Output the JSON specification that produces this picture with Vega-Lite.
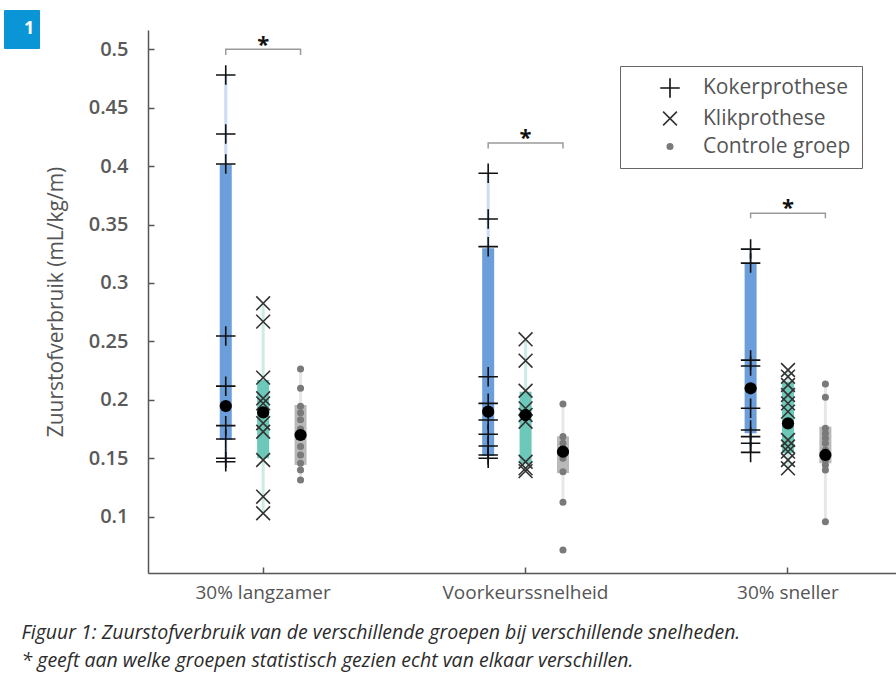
{
  "$schema": "https://vega.github.io/schema/vega-lite/v6.json",
  "autosize": {"type": "none"},
  "width": 748,
  "height": 543,
  "padding": {"left": 148, "top": 30, "right": 0, "bottom": 111},
  "background": "white",
  "config": {
    "view": {"stroke": null},
    "font": "Open Sans",
    "axis": {"grid": false},
    "legend": {
      "orient": "none", "legendX": 472, "legendY": 36,
      "strokeColor": "#666", "padding": 11, "rowPadding": 6,
      "symbolOffset": 28, "labelOffset": 22, "labelFont": "Open Sans",
      "labelFontSize": 21, "labelColor": "#555", "symbolStrokeWidth": 1.6
    }
  },
  "title": {
    "text": "Figuur 1: Zuurstofverbruik van de verschillende groepen bij verschillende snelheden.",
    "subtitle": "* geeft aan welke groepen statistisch gezien echt van elkaar verschillen.",
    "orient": "bottom",
    "anchor": "start",
    "frame": "bounds",
    "offset": 22,
    "dx": 18,
    "font": "Open Sans",
    "fontSize": 19.5,
    "fontStyle": "italic",
    "fontWeight": "normal",
    "color": "#2b2b2b",
    "subtitleFont": "Open Sans",
    "subtitleFontSize": 19.5,
    "subtitleFontStyle": "italic",
    "subtitleColor": "#2b2b2b",
    "subtitlePadding": 8
  },
  "datasets": {
    "punten": [
      {"snelheid": "30% langzamer", "groep": "Kokerprothese", "waarde": 0.478},
      {"snelheid": "30% langzamer", "groep": "Kokerprothese", "waarde": 0.4275},
      {"snelheid": "30% langzamer", "groep": "Kokerprothese", "waarde": 0.4018},
      {"snelheid": "30% langzamer", "groep": "Kokerprothese", "waarde": 0.2546},
      {"snelheid": "30% langzamer", "groep": "Kokerprothese", "waarde": 0.2117},
      {"snelheid": "30% langzamer", "groep": "Kokerprothese", "waarde": 0.1779},
      {"snelheid": "30% langzamer", "groep": "Kokerprothese", "waarde": 0.1665},
      {"snelheid": "30% langzamer", "groep": "Kokerprothese", "waarde": 0.150},
      {"snelheid": "30% langzamer", "groep": "Kokerprothese", "waarde": 0.147},
      {"snelheid": "30% langzamer", "groep": "Klikprothese", "waarde": 0.2826},
      {"snelheid": "30% langzamer", "groep": "Klikprothese", "waarde": 0.2669},
      {"snelheid": "30% langzamer", "groep": "Klikprothese", "waarde": 0.219},
      {"snelheid": "30% langzamer", "groep": "Klikprothese", "waarde": 0.2013},
      {"snelheid": "30% langzamer", "groep": "Klikprothese", "waarde": 0.197},
      {"snelheid": "30% langzamer", "groep": "Klikprothese", "waarde": 0.18},
      {"snelheid": "30% langzamer", "groep": "Klikprothese", "waarde": 0.1727},
      {"snelheid": "30% langzamer", "groep": "Klikprothese", "waarde": 0.1485},
      {"snelheid": "30% langzamer", "groep": "Klikprothese", "waarde": 0.1171},
      {"snelheid": "30% langzamer", "groep": "Klikprothese", "waarde": 0.1029},
      {"snelheid": "30% langzamer", "groep": "Controle groep", "waarde": 0.2264},
      {"snelheid": "30% langzamer", "groep": "Controle groep", "waarde": 0.2099},
      {"snelheid": "30% langzamer", "groep": "Controle groep", "waarde": 0.1945},
      {"snelheid": "30% langzamer", "groep": "Controle groep", "waarde": 0.189},
      {"snelheid": "30% langzamer", "groep": "Controle groep", "waarde": 0.183},
      {"snelheid": "30% langzamer", "groep": "Controle groep", "waarde": 0.175},
      {"snelheid": "30% langzamer", "groep": "Controle groep", "waarde": 0.160},
      {"snelheid": "30% langzamer", "groep": "Controle groep", "waarde": 0.1528},
      {"snelheid": "30% langzamer", "groep": "Controle groep", "waarde": 0.1457},
      {"snelheid": "30% langzamer", "groep": "Controle groep", "waarde": 0.140},
      {"snelheid": "30% langzamer", "groep": "Controle groep", "waarde": 0.1314},
      {"snelheid": "Voorkeurssnelheid", "groep": "Kokerprothese", "waarde": 0.3939},
      {"snelheid": "Voorkeurssnelheid", "groep": "Kokerprothese", "waarde": 0.3548},
      {"snelheid": "Voorkeurssnelheid", "groep": "Kokerprothese", "waarde": 0.3311},
      {"snelheid": "Voorkeurssnelheid", "groep": "Kokerprothese", "waarde": 0.2198},
      {"snelheid": "Voorkeurssnelheid", "groep": "Kokerprothese", "waarde": 0.197},
      {"snelheid": "Voorkeurssnelheid", "groep": "Kokerprothese", "waarde": 0.1828},
      {"snelheid": "Voorkeurssnelheid", "groep": "Kokerprothese", "waarde": 0.1705},
      {"snelheid": "Voorkeurssnelheid", "groep": "Kokerprothese", "waarde": 0.1605},
      {"snelheid": "Voorkeurssnelheid", "groep": "Kokerprothese", "waarde": 0.1528},
      {"snelheid": "Voorkeurssnelheid", "groep": "Kokerprothese", "waarde": 0.150},
      {"snelheid": "Voorkeurssnelheid", "groep": "Klikprothese", "waarde": 0.2518},
      {"snelheid": "Voorkeurssnelheid", "groep": "Klikprothese", "waarde": 0.2335},
      {"snelheid": "Voorkeurssnelheid", "groep": "Klikprothese", "waarde": 0.2078},
      {"snelheid": "Voorkeurssnelheid", "groep": "Klikprothese", "waarde": 0.1927},
      {"snelheid": "Voorkeurssnelheid", "groep": "Klikprothese", "waarde": 0.187},
      {"snelheid": "Voorkeurssnelheid", "groep": "Klikprothese", "waarde": 0.1813},
      {"snelheid": "Voorkeurssnelheid", "groep": "Klikprothese", "waarde": 0.147},
      {"snelheid": "Voorkeurssnelheid", "groep": "Klikprothese", "waarde": 0.1414},
      {"snelheid": "Voorkeurssnelheid", "groep": "Klikprothese", "waarde": 0.139},
      {"snelheid": "Voorkeurssnelheid", "groep": "Controle groep", "waarde": 0.1964},
      {"snelheid": "Voorkeurssnelheid", "groep": "Controle groep", "waarde": 0.1685},
      {"snelheid": "Voorkeurssnelheid", "groep": "Controle groep", "waarde": 0.1628},
      {"snelheid": "Voorkeurssnelheid", "groep": "Controle groep", "waarde": 0.158},
      {"snelheid": "Voorkeurssnelheid", "groep": "Controle groep", "waarde": 0.150},
      {"snelheid": "Voorkeurssnelheid", "groep": "Controle groep", "waarde": 0.1385},
      {"snelheid": "Voorkeurssnelheid", "groep": "Controle groep", "waarde": 0.1123},
      {"snelheid": "Voorkeurssnelheid", "groep": "Controle groep", "waarde": 0.0715},
      {"snelheid": "30% sneller", "groep": "Kokerprothese", "waarde": 0.329},
      {"snelheid": "30% sneller", "groep": "Kokerprothese", "waarde": 0.317},
      {"snelheid": "30% sneller", "groep": "Kokerprothese", "waarde": 0.234},
      {"snelheid": "30% sneller", "groep": "Kokerprothese", "waarde": 0.229},
      {"snelheid": "30% sneller", "groep": "Kokerprothese", "waarde": 0.1928},
      {"snelheid": "30% sneller", "groep": "Kokerprothese", "waarde": 0.1742},
      {"snelheid": "30% sneller", "groep": "Kokerprothese", "waarde": 0.1685},
      {"snelheid": "30% sneller", "groep": "Kokerprothese", "waarde": 0.1628},
      {"snelheid": "30% sneller", "groep": "Kokerprothese", "waarde": 0.155},
      {"snelheid": "30% sneller", "groep": "Klikprothese", "waarde": 0.2255},
      {"snelheid": "30% sneller", "groep": "Klikprothese", "waarde": 0.2198},
      {"snelheid": "30% sneller", "groep": "Klikprothese", "waarde": 0.2127},
      {"snelheid": "30% sneller", "groep": "Klikprothese", "waarde": 0.2041},
      {"snelheid": "30% sneller", "groep": "Klikprothese", "waarde": 0.197},
      {"snelheid": "30% sneller", "groep": "Klikprothese", "waarde": 0.1899},
      {"snelheid": "30% sneller", "groep": "Klikprothese", "waarde": 0.1656},
      {"snelheid": "30% sneller", "groep": "Klikprothese", "waarde": 0.160},
      {"snelheid": "30% sneller", "groep": "Klikprothese", "waarde": 0.1557},
      {"snelheid": "30% sneller", "groep": "Klikprothese", "waarde": 0.1485},
      {"snelheid": "30% sneller", "groep": "Klikprothese", "waarde": 0.1414},
      {"snelheid": "30% sneller", "groep": "Controle groep", "waarde": 0.2136},
      {"snelheid": "30% sneller", "groep": "Controle groep", "waarde": 0.2022},
      {"snelheid": "30% sneller", "groep": "Controle groep", "waarde": 0.1757},
      {"snelheid": "30% sneller", "groep": "Controle groep", "waarde": 0.1714},
      {"snelheid": "30% sneller", "groep": "Controle groep", "waarde": 0.1671},
      {"snelheid": "30% sneller", "groep": "Controle groep", "waarde": 0.1628},
      {"snelheid": "30% sneller", "groep": "Controle groep", "waarde": 0.1571},
      {"snelheid": "30% sneller", "groep": "Controle groep", "waarde": 0.1485},
      {"snelheid": "30% sneller", "groep": "Controle groep", "waarde": 0.1442},
      {"snelheid": "30% sneller", "groep": "Controle groep", "waarde": 0.140},
      {"snelheid": "30% sneller", "groep": "Controle groep", "waarde": 0.0957}
    ],
    "samenvatting": [
      {"snelheid": "30% langzamer", "groep": "Kokerprothese", "min": 0.147, "max": 0.478, "laag": 0.1656, "hoog": 0.4013, "gemiddeld": 0.1947},
      {"snelheid": "30% langzamer", "groep": "Klikprothese", "min": 0.1029, "max": 0.2826, "laag": 0.150, "hoog": 0.217, "gemiddeld": 0.1893},
      {"snelheid": "30% langzamer", "groep": "Controle groep", "min": 0.1314, "max": 0.2264, "laag": 0.1443, "hoog": 0.1956, "gemiddeld": 0.1699},
      {"snelheid": "Voorkeurssnelheid", "groep": "Kokerprothese", "min": 0.150, "max": 0.3939, "laag": 0.152, "hoog": 0.3297, "gemiddeld": 0.1899},
      {"snelheid": "Voorkeurssnelheid", "groep": "Klikprothese", "min": 0.139, "max": 0.2518, "laag": 0.1456, "hoog": 0.207, "gemiddeld": 0.187},
      {"snelheid": "Voorkeurssnelheid", "groep": "Controle groep", "min": 0.1123, "max": 0.1964, "laag": 0.1373, "hoog": 0.1687, "gemiddeld": 0.1556},
      {"snelheid": "30% sneller", "groep": "Kokerprothese", "min": 0.155, "max": 0.329, "laag": 0.1714, "hoog": 0.3169, "gemiddeld": 0.2099},
      {"snelheid": "30% sneller", "groep": "Klikprothese", "min": 0.1414, "max": 0.2255, "laag": 0.1542, "hoog": 0.2155, "gemiddeld": 0.1799},
      {"snelheid": "30% sneller", "groep": "Controle groep", "min": 0.0957, "max": 0.2136, "laag": 0.1457, "hoog": 0.177, "gemiddeld": 0.1528}
    ],
    "haken": [
      {"snelheid": "30% langzamer", "groep": "Kokerprothese", "y": 0.495, "i": 0},
      {"snelheid": "30% langzamer", "groep": "Kokerprothese", "y": 0.5, "i": 1},
      {"snelheid": "30% langzamer", "groep": "Controle groep", "y": 0.5, "i": 2},
      {"snelheid": "30% langzamer", "groep": "Controle groep", "y": 0.495, "i": 3},
      {"snelheid": "Voorkeurssnelheid", "groep": "Kokerprothese", "y": 0.415, "i": 0},
      {"snelheid": "Voorkeurssnelheid", "groep": "Kokerprothese", "y": 0.4198, "i": 1},
      {"snelheid": "Voorkeurssnelheid", "groep": "Controle groep", "y": 0.4198, "i": 2},
      {"snelheid": "Voorkeurssnelheid", "groep": "Controle groep", "y": 0.415, "i": 3},
      {"snelheid": "30% sneller", "groep": "Kokerprothese", "y": 0.3555, "i": 0},
      {"snelheid": "30% sneller", "groep": "Kokerprothese", "y": 0.3597, "i": 1},
      {"snelheid": "30% sneller", "groep": "Controle groep", "y": 0.3597, "i": 2},
      {"snelheid": "30% sneller", "groep": "Controle groep", "y": 0.3555, "i": 3}
    ],
    "sterren": [
      {"snelheid": "30% langzamer", "y": 0.4977},
      {"snelheid": "Voorkeurssnelheid", "y": 0.4181},
      {"snelheid": "30% sneller", "y": 0.3582}
    ]
  },
  "encoding": {
    "x": {
      "field": "snelheid",
      "type": "nominal",
      "sort": ["30% langzamer", "Voorkeurssnelheid", "30% sneller"],
      "scale": {"domain": ["30% langzamer", "Voorkeurssnelheid", "30% sneller"], "range": [0, 755], "paddingInner": 0.123, "paddingOuter": 0},
      "axis": {
        "title": null,
        "labelAngle": 0,
        "labelFont": "Open Sans",
        "labelFontSize": 19,
        "labelColor": "#555",
        "labelPadding": 16,
        "tickSize": -6,
        "tickWidth": 1.5,
        "tickColor": "#555",
        "domainColor": "#555",
        "domainWidth": 1.5
      }
    }
  },
  "layer": [
    {
      "data": {"name": "samenvatting"},
      "mark": {"type": "rule", "strokeWidth": 3, "opacity": 0.35},
      "encoding": {
        "xOffset": {"field": "groep", "type": "nominal", "scale": {"type": "point", "domain": ["Kokerprothese", "Klikprothese", "Controle groep"], "range": [77.75, 152.55], "padding": 0}},
        "y": {
          "field": "min",
          "type": "quantitative",
          "scale": {"domain": [0.0518, 0.5165], "nice": false, "zero": false},
          "axis": {
            "title": "Zuurstofverbruik (mL/kg/m)",
            "values": [0.1, 0.15, 0.2, 0.25, 0.3, 0.35, 0.4, 0.45, 0.5],
            "format": "~g",
            "labelFont": "Open Sans",
            "labelFontSize": 20,
            "labelFontWeight": 600,
            "labelColor": "#5a5a5a",
            "labelPadding": 26,
            "tickSize": -6,
            "tickWidth": 1.5,
            "tickColor": "#555",
            "domainColor": "#555",
            "domainWidth": 1.5,
            "titleFont": "Open Sans",
            "titleFontSize": 21,
            "titleFontWeight": "normal",
            "titleColor": "#555",
            "titlePadding": 22
          }
        },
        "y2": {"field": "max"},
        "color": {"field": "groep", "type": "nominal", "scale": {"domain": ["Controle groep", "Klikprothese", "Kokerprothese"], "range": ["#b9b9b9", "#6cc8b8", "#6b9edb"]}, "legend": null}
      }
    },
    {
      "data": {"name": "samenvatting"},
      "mark": {"type": "rule", "strokeWidth": 12, "strokeCap": "butt"},
      "encoding": {
        "xOffset": {"field": "groep", "type": "nominal"},
        "y": {"field": "laag", "type": "quantitative"},
        "y2": {"field": "hoog"},
        "color": {"field": "groep", "type": "nominal", "legend": null}
      }
    },
    {
      "data": {"name": "punten"},
      "mark": {"type": "point", "filled": true, "strokeWidth": 1.6, "opacity": 1},
      "encoding": {
        "xOffset": {"field": "groep", "type": "nominal"},
        "y": {"field": "waarde", "type": "quantitative"},
        "shape": {"field": "groep", "type": "nominal", "title": null, "scale": {"domain": ["Kokerprothese", "Klikprothese", "Controle groep"], "range": ["M-1,0H1M0,-1V1", "M-1,-1L1,1M1,-1L-1,1", "circle"]}},
        "fill": {"field": "groep", "type": "nominal", "title": null, "scale": {"domain": ["Kokerprothese", "Klikprothese", "Controle groep"], "range": ["#111111", "#333333", "#7a7a7a"]}},
        "stroke": {"field": "groep", "type": "nominal", "title": null, "scale": {"domain": ["Kokerprothese", "Klikprothese", "Controle groep"], "range": ["#111111", "#333333", "#7a7a7a"]}},
        "size": {"field": "groep", "type": "nominal", "title": null, "scale": {"type": "ordinal", "domain": ["Kokerprothese", "Klikprothese", "Controle groep"], "range": [380, 190, 30]}}
      }
    },
    {
      "data": {"name": "samenvatting"},
      "mark": {"type": "point", "filled": true, "shape": "circle", "color": "#000000", "size": 150, "opacity": 1},
      "encoding": {
        "xOffset": {"field": "groep", "type": "nominal"},
        "y": {"field": "gemiddeld", "type": "quantitative"}
      }
    },
    {
      "data": {"name": "haken"},
      "mark": {"type": "line", "color": "#9a9a9a", "strokeWidth": 1.5},
      "encoding": {
        "xOffset": {"field": "groep", "type": "nominal"},
        "y": {"field": "y", "type": "quantitative"},
        "detail": {"field": "snelheid", "type": "nominal"},
        "order": {"field": "i", "type": "quantitative"},
        "strokeDash": {"datum": "1", "scale": {"range": [[1, 0]]}, "legend": {
          "orient": "none", "legendX": -144, "legendY": -20, "title": null,
          "fillColor": "#0a96d6", "strokeColor": "#0a96d6", "padding": 4, "rowPadding": 0,
          "symbolSize": 1, "symbolStrokeWidth": 0, "symbolOffset": 0,
          "symbolOpacity": 0, "symbolType": "circle", "labelColor": "white", "labelFontSize": 18, "labelFont": "Open Sans",
          "labelFontWeight": "bold", "labelOffset": -2, "clipHeight": 30
        }}
      }
    },
    {
      "data": {"name": "sterren"},
      "mark": {"type": "text", "text": "*", "fontSize": 22, "fontWeight": "bold", "color": "#111", "baseline": "alphabetic", "align": "center"},
      "encoding": {
        "xOffset": {"datum": "Klikprothese"},
        "y": {"field": "y", "type": "quantitative"}
      }
    }
  ]
}
